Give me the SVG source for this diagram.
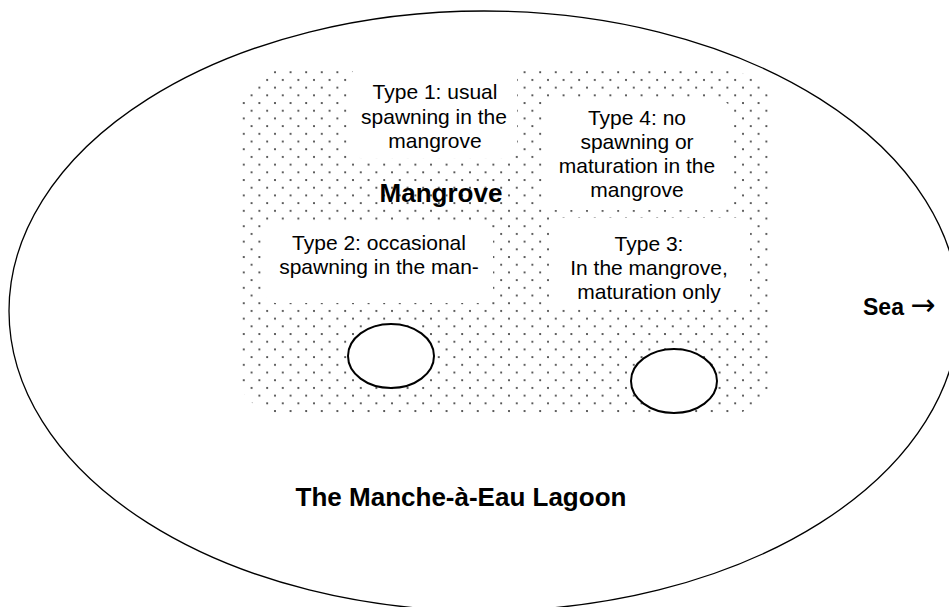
<svg xmlns="http://www.w3.org/2000/svg" width="949" height="607" viewBox="0 0 949 607">
<defs>
<pattern id="dots" x="0" y="0" width="15.6" height="15.4" patternUnits="userSpaceOnUse">
<circle cx="2" cy="3" r="1" fill="#333"/>
<circle cx="9.8" cy="10.7" r="1" fill="#333"/>
</pattern>
</defs>
<style>
.t{font-family:"Liberation Sans",Arial,sans-serif;font-size:21px;fill:#000;text-anchor:middle}
.b{font-family:"Liberation Sans",Arial,sans-serif;font-weight:bold;fill:#000;text-anchor:middle}
.box{fill:#fff;stroke:none}
.pond{fill:#fff;stroke:#000;stroke-width:2}
</style>
<rect width="949" height="607" fill="#fff"/>
<g id="lagoon">
<ellipse cx="484" cy="311" rx="475" ry="300" fill="#fff" stroke="#000" stroke-width="1.3"/>
<text class="b" x="461" y="506" font-size="26">The Manche-à-Eau Lagoon</text>
</g>
<g id="mangrove">
<rect x="237" y="70" width="536" height="345" rx="48" ry="45" fill="url(#dots)"/>
<text class="b" x="441" y="202" font-size="26">Mangrove</text>
</g>
<g id="type1">
<rect class="box" x="350" y="68" width="167" height="90" rx="10"/>
<text class="t" x="435" y="99">Type 1: usual</text>
<text class="t" x="434" y="124">spawning in the</text>
<text class="t" x="435" y="148">mangrove</text>
</g>
<g id="type4">
<rect class="box" x="544" y="101" width="187" height="109" rx="10"/>
<text class="t" x="637" y="125">Type 4: no</text>
<text class="t" x="637" y="149">spawning or</text>
<text class="t" x="637" y="173">maturation in the</text>
<text class="t" x="637" y="197">mangrove</text>
</g>
<g id="type2">
<rect class="box" x="265" y="224" width="228" height="79" rx="10"/>
<text class="t" x="379" y="250">Type 2: occasional</text>
<text class="t" x="379" y="274">spawning in the man-</text>
</g>
<g id="type3">
<rect class="box" x="550" y="218" width="200" height="90" rx="10"/>
<text class="t" x="649" y="251">Type 3:</text>
<text class="t" x="649" y="275">In the mangrove,</text>
<text class="t" x="649" y="299">maturation only</text>
</g>
<g id="pond1"><ellipse class="pond" cx="391" cy="356" rx="43" ry="32"/></g>
<g id="pond2"><ellipse class="pond" cx="674" cy="381" rx="43" ry="32"/></g>
<g id="sea">
<text class="b" x="863" y="315" font-size="23" style="text-anchor:start">Sea <tspan font-family="'DejaVu Sans',sans-serif" font-weight="normal" font-size="30">→</tspan></text>
</g>
<g id="connectors"></g>
</svg>
